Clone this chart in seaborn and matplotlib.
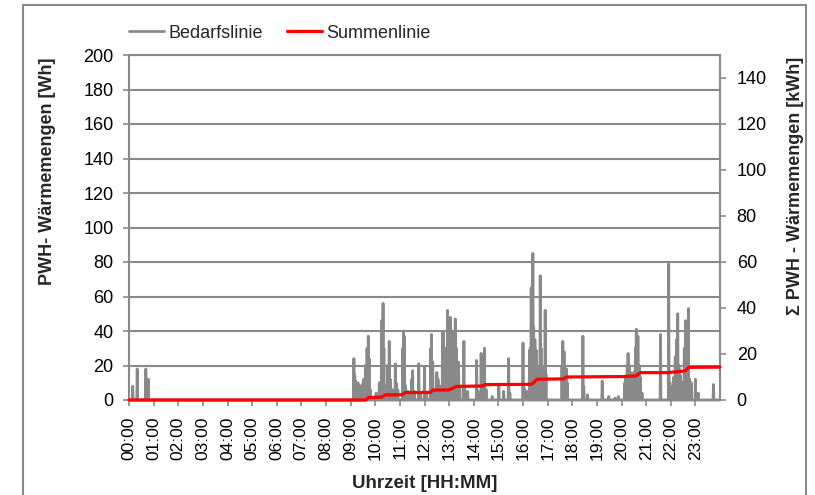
import numpy as np
import pandas as pd
import matplotlib
matplotlib.use("Agg")
import matplotlib.pyplot as plt
from matplotlib.patches import Rectangle
import seaborn as sns

# Zapfereignisse: Uhrzeit und Wärmemenge je Minute [Wh]
bedarf_zeit = [
    "00:09", "00:20", "00:41", "00:47",
    "09:08", "09:10", "09:12", "09:14", "09:16", "09:18", "09:20", "09:22", "09:25",
    "09:28", "09:32", "09:36", "09:40", "09:43", "09:45", "09:48",
    "10:02", "10:10", "10:16", "10:19", "10:21", "10:25", "10:30", "10:34", "10:37",
    "10:42", "10:49", "10:51", "10:55", "11:07", "11:09", "11:11", "11:14", "11:20",
    "11:29", "11:31", "11:35", "11:46", "11:50", "12:00", "12:05", "12:15", "12:17",
    "12:20", "12:25", "12:30", "12:33", "12:40", "12:44", "12:46", "12:50", "12:56",
    "12:58", "13:00", "13:03", "13:06", "13:09", "13:12", "13:15", "13:18", "13:20",
    "13:23", "13:26", "13:36", "13:38", "13:45", "14:07", "14:10", "14:18", "14:22",
    "14:26", "14:30", "14:45", "15:01", "15:13", "15:25", "15:28", "16:00", "16:03",
    "16:10", "16:16", "16:18", "16:20", "16:22", "16:24", "16:26", "16:29", "16:32",
    "16:34", "16:38", "16:42", "16:44", "16:46", "16:50", "16:54", "16:56", "17:35",
    "17:37", "17:40", "17:43", "17:46", "17:48", "18:26", "18:28", "18:37", "19:13",
    "19:29", "19:44", "19:52", "20:08", "20:10", "20:14", "20:16", "20:19", "20:22",
    "20:26", "20:30", "20:34", "20:36", "20:38", "20:40", "20:43", "20:46", "20:50",
    "21:35", "21:55", "21:58", "22:04", "22:07", "22:11", "22:14", "22:17", "22:20",
    "22:24", "22:28", "22:33", "22:36", "22:40", "22:43", "22:46", "22:50", "23:00",
    "23:07", "23:44",
]
bedarf_wh = [
    8, 18, 18, 12,
    24, 14, 11, 9, 8, 10, 7, 8, 6,
    9, 12, 20, 30, 37, 24, 6,
    4, 10, 46, 56, 30, 8, 20, 34, 12,
    6, 21, 10, 6, 30, 40, 37, 8, 5,
    12, 17, 5, 21, 4, 19, 4, 30, 38,
    22, 6, 16, 12, 8, 39, 39, 30, 52,
    40, 35, 48, 40, 30, 40, 47, 30, 22,
    22, 8, 34, 8, 5, 23, 5, 27, 12,
    30, 6, 2, 8, 5, 24, 4, 33, 7,
    5, 29, 30, 65, 40, 85, 42, 35, 29,
    20, 15, 72, 30, 19, 18, 52, 15, 20,
    34, 28, 18, 18, 10, 37, 8, 3, 11,
    2, 1, 2, 10, 14, 20, 27, 20, 16,
    14, 16, 30, 41, 25, 37, 20, 13, 4,
    38, 79, 10, 8, 13, 25, 35, 50, 20,
    14, 10, 30, 46, 42, 53, 12, 10, 12,
    4, 9,
]

# Stützstellen der Summenlinie: Uhrzeit und kumulierte Wärmemenge [kWh]
summe_zeit = [
    "00:00", "09:37", "09:44", "10:15", "10:24", "11:06", "11:12", "12:15", "12:20",
    "12:59", "13:19", "14:22", "14:28", "16:18", "16:22", "16:34", "17:40", "17:45",
    "20:10", "20:36", "20:46", "21:53", "22:32", "22:36", "22:44", "24:00",
]
summe_kwh = [
    0.0, 0.0, 1.1, 1.2, 2.2, 2.3, 3.2, 3.3, 4.3,
    4.4, 5.9, 6.1, 6.7, 6.8, 6.9, 9.0, 9.2, 10.0,
    10.2, 10.5, 11.9, 11.9, 12.6, 12.8, 14.2, 14.3,
]

stunden_labels = [
    "00:00", "01:00", "02:00", "03:00", "04:00", "05:00", "06:00", "07:00",
    "08:00", "09:00", "10:00", "11:00", "12:00", "13:00", "14:00", "15:00",
    "16:00", "17:00", "18:00", "19:00", "20:00", "21:00", "22:00", "23:00",
]

GRAU = "#898989"
ROT = "#ff0000"


def in_stunden(s):
    h, m = s.split(":")
    return int(h) + int(m) / 60.0


# Minutenraster über den Tag, Zapfungen an ihren Minuten eingetragen
minuten = np.arange(0, 24 * 60 + 1)
wh = np.zeros(len(minuten))
for t, v in zip(bedarf_zeit, bedarf_wh):
    h, m = t.split(":")
    wh[int(h) * 60 + int(m)] = v
bedarf = pd.DataFrame({"Uhrzeit": minuten / 60.0, "Wh": wh})
summe = pd.DataFrame({"Uhrzeit": [in_stunden(t) for t in summe_zeit], "kWh": summe_kwh})

sns.set_style("white")
plt.rcParams["font.family"] = ["Liberation Sans", "DejaVu Sans"]

fig, ax = plt.subplots(figsize=(8.15, 4.95), dpi=100)
fig.subplots_adjust(left=129 / 815, right=720 / 815, bottom=1 - 400 / 495, top=1 - 55 / 495)

sns.lineplot(data=bedarf, x="Uhrzeit", y="Wh", ax=ax, color=GRAU, linewidth=2.0,
             estimator=None, legend=False, clip_on=False, zorder=3)
ax2 = ax.twinx()
sns.lineplot(data=summe, x="Uhrzeit", y="kWh", ax=ax2, color=ROT, linewidth=2.3,
             estimator=None, sort=False, legend=False, clip_on=False, zorder=4)

ax.set_xlim(0, 24)
ax.set_ylim(0, 200)
ax.set_yticks(np.arange(0, 201, 20))
ax.set_xticks(np.arange(24))
ax.set_xticklabels(stunden_labels, rotation=90)
ax2.set_ylim(0, 150)
ax2.set_yticks(np.arange(0, 141, 20))

ax.yaxis.grid(True, color=GRAU, linewidth=1.5)
ax.xaxis.grid(False)
ax.set_axisbelow(True)

for a in (ax, ax2):
    for sp in a.spines.values():
        sp.set_color(GRAU)
        sp.set_linewidth(1.5)
ax2.spines["left"].set_visible(False)
ax2.spines["bottom"].set_visible(False)
ax2.spines["top"].set_visible(False)
ax.spines["right"].set_visible(False)

ax.tick_params(axis="y", left=True, direction="out", length=4, width=1.2, color=GRAU,
               pad=7, labelsize=13, labelcolor="black")
ax.tick_params(axis="x", bottom=True, direction="out", length=4, width=1.2, color=GRAU,
               pad=8, labelsize=12.5, labelcolor="black")
ax2.tick_params(axis="y", right=True, direction="out", length=4, width=1.2, color=GRAU,
                pad=8, labelsize=13, labelcolor="black")

ax.set_xlabel("Uhrzeit [HH:MM]", fontsize=13.5, fontweight="bold")
ax.set_ylabel("PWH- Wärmemengen [Wh]", fontsize=13, fontweight="bold")
ax2.set_ylabel("Σ PWH - Wärmemengen [kWh]", fontsize=13, fontweight="bold")
ax.xaxis.set_label_coords(0.5, -0.218)
ax.yaxis.set_label_coords(-0.124, 0.662)
ax2.yaxis.set_label_coords(1.113, 0.622)

handles = [ax.lines[0], ax2.lines[0]]
fig.legend(handles, ["Bedarfslinie", "Summenlinie"], loc="center left",
           bbox_to_anchor=(129 / 815, 1 - 33 / 495), ncol=2, frameon=False,
           fontsize=13, handlelength=1.95, handletextpad=0.25, columnspacing=1.3,
           borderpad=0, borderaxespad=0)

# Rahmen des Diagrammbereichs
fig.patches.append(Rectangle((23 / 815, -0.05), (806 - 23) / 815, 1.05 - 5 / 495,
                             transform=fig.transFigure, fill=False,
                             edgecolor=GRAU, linewidth=1.5, zorder=0))

fig.savefig("out.png", dpi=100)
